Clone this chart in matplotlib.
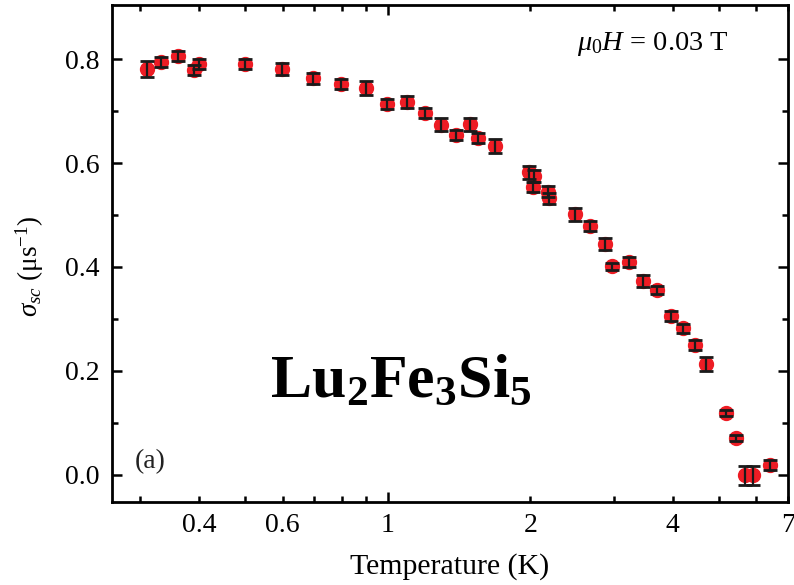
import matplotlib
matplotlib.use("Agg")
import matplotlib.pyplot as plt
import numpy as np
from matplotlib.ticker import FixedLocator, FixedFormatter

plt.rcParams['font.family'] = ['Liberation Serif', 'DejaVu Serif']
plt.rcParams['mathtext.fontset'] = 'custom'
plt.rcParams['mathtext.rm'] = 'Liberation Serif'
plt.rcParams['mathtext.it'] = 'Liberation Serif:italic'
plt.rcParams['mathtext.bf'] = 'Liberation Serif:bold'

# muSR relaxation rate vs temperature, mu0H = 0.03 T
temp = [0.310, 0.332, 0.361, 0.391, 0.400, 0.500, 0.598, 0.697, 0.798, 0.898,
        0.995, 1.096, 1.197, 1.296, 1.393, 1.494, 1.555, 1.686, 1.987, 2.040,
        2.030, 2.180, 2.190, 2.483, 2.678, 2.879, 2.979, 3.225, 3.467, 3.705,
        3.963, 4.207, 4.452, 4.710, 5.190, 5.447, 5.683, 5.915, 6.430]
sigma = [0.781, 0.794, 0.806, 0.779, 0.790, 0.790, 0.781, 0.763, 0.752, 0.744,
         0.713, 0.717, 0.696, 0.674, 0.654, 0.675, 0.648, 0.633, 0.582, 0.575,
         0.554, 0.545, 0.532, 0.501, 0.479, 0.444, 0.401, 0.410, 0.373, 0.356,
         0.306, 0.282, 0.250, 0.213, 0.119, 0.071, -0.001, -0.001, 0.019]
sigma_err = [0.015, 0.010, 0.010, 0.010, 0.010, 0.010, 0.0115, 0.011, 0.010, 0.013,
             0.010, 0.011, 0.010, 0.013, 0.010, 0.0125, 0.010, 0.013, 0.013, 0.011,
             0.0096, 0.010, 0.010, 0.013, 0.009, 0.011, 0.006, 0.0096, 0.011, 0.008,
             0.0096, 0.009, 0.010, 0.013, 0.005, 0.006, 0.0185, 0.0185, 0.009]

xtick_vals = [0.4, 0.6, 1, 2, 4, 7]
ytick_vals = [0.0, 0.2, 0.4, 0.6, 0.8]

fig = plt.figure(figsize=(7.94, 5.85), dpi=100)
ax = fig.add_axes([0.1407, 0.1419, 0.8517, 0.8496])

ax.plot(temp, sigma, 'o', color='#ed1c24', markersize=10, zorder=2)
ax.errorbar(temp, sigma, yerr=sigma_err, fmt='none', ecolor='#1a1a1a',
            elinewidth=1.6, capsize=4.8, capthick=2.0, zorder=3)

ax.set_xscale('log')
ax.set_xlim(0.2615, 7.0)
ax.set_ylim(-0.052, 0.904)

# minor log ticks carry the labels, only 1 gets a long tick
minor_x = [0.3, 0.4, 0.5, 0.6, 0.7, 0.8, 0.9, 2, 3, 4, 5, 6, 7]
ax.xaxis.set_major_locator(FixedLocator([1]))
ax.xaxis.set_major_formatter(FixedFormatter(['1']))
ax.xaxis.set_minor_locator(FixedLocator(minor_x))
ax.xaxis.set_minor_formatter(FixedFormatter(
    ['%g' % v if v in xtick_vals else '' for v in minor_x]))

ax.yaxis.set_major_locator(FixedLocator(ytick_vals))
ax.set_yticklabels(['%.1f' % v for v in ytick_vals])
ax.yaxis.set_minor_locator(FixedLocator([0.1, 0.3, 0.5, 0.7]))

ax.tick_params(which='both', direction='in', top=True, right=True,
               width=1.8, labelsize=20)
ax.tick_params(which='major', length=7.5)
ax.tick_params(which='minor', length=4)
ax.tick_params(axis='x', which='both', pad=8)
ax.tick_params(axis='y', which='both', pad=9)
for sp in ax.spines.values():
    sp.set_linewidth(2.0)

ax.set_xlabel('Temperature (K)', fontsize=21.5, labelpad=11)
ax.set_ylabel(r'$\sigma_{sc}$ (μs$^{-1}$)', fontsize=19.5)
ax.yaxis.set_label_coords(-0.097, 0.475)

ax.text(0.428, 0.212, r'$\mathbf{Lu_2Fe_3Si_5}$', transform=ax.transAxes,
        fontsize=44.5, ha='center', va='baseline')
ax.text(0.688, 0.909, r'$\mu_{0}H$ = 0.03 T', transform=ax.transAxes,
        fontsize=20.5, ha='left', va='baseline')
ax.text(0.0345, 0.068, '(a)', transform=ax.transAxes,
        fontsize=20, ha='left', va='baseline', color='#222222')

fig.savefig('out.png', dpi=100)
